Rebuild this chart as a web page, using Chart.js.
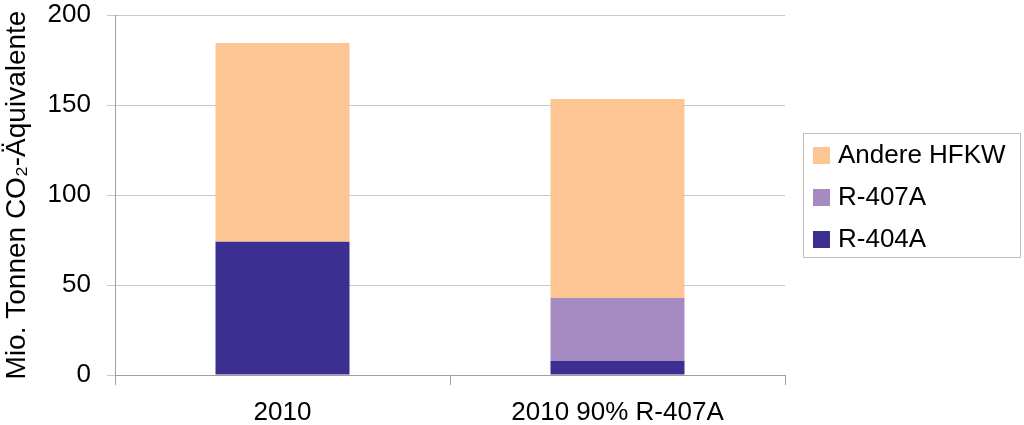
<!DOCTYPE html>
<html>
<head>
<meta charset="utf-8">
<script src="https://cdn.jsdelivr.net/npm/chart.js@4/dist/chart.umd.min.js"></script>
<style>
html,body{margin:0;padding:0;background:#fff;}
#wrap{width:1024px;height:425px;position:relative;}
</style>
</head>
<body>
<div id="wrap"><canvas id="c" width="1024" height="425"></canvas></div>
<script>
const categories = ['2010', '2010 90% R-407A'];
const r404a = [74, 7.8];
const r407a = [0, 35];
const andere = [110.5, 110.5];
const yTicks = [0, 50, 100, 150, 200];
const yTitle = 'Mio. Tonnen CO\u2082-\u00C4quivalente';

const FONT = "'Liberation Sans', Arial, sans-serif";

const boxLegend = {
  id: 'boxLegend',
  afterDraw(chart) {
    const ctx = chart.ctx;
    const ca = chart.chartArea;
    const items = chart.data.datasets.slice().reverse();
    const left = ca.right + 18, width = 217, height = 124;
    const top = (ca.top + ca.bottom) / 2 - height / 2;
    ctx.save();
    ctx.strokeStyle = '#c0c0c0';
    ctx.lineWidth = 1;
    ctx.strokeRect(left + 0.5, top + 0.5, width, height);
    ctx.font = '26px ' + FONT;
    ctx.textBaseline = 'middle';
    ctx.fillStyle = '#000';
    items.forEach((ds, i) => {
      const cy = top + 22 + i * 42;
      ctx.fillStyle = ds.backgroundColor;
      ctx.fillRect(left + 10, cy - 8, 17, 17);
      ctx.fillStyle = '#000';
      ctx.fillText(ds.label, left + 35, cy + 1);
    });
    ctx.restore();
  }
};

new Chart(document.getElementById('c'), {
  type: 'bar',
  data: {
    labels: categories,
    datasets: [
      { label: 'R-404A', data: r404a, backgroundColor: '#3B3092' },
      { label: 'R-407A', data: r407a, backgroundColor: '#A68BC2' },
      { label: 'Andere HFKW', data: andere, backgroundColor: '#FCC593' }
    ]
  },
  options: {
    responsive: false,
    animation: false,
    devicePixelRatio: 1,
    layout: { padding: { left: 0, right: 239, top: 0, bottom: 0 } },
    datasets: { bar: { categoryPercentage: 1, barPercentage: 0.4 } },
    plugins: { legend: { display: false }, tooltip: { enabled: false } },
    scales: {
      x: {
        stacked: true,
        afterFit(s) { s.height = 50; },
        grid: { offset: true, drawOnChartArea: false, drawTicks: true, tickLength: 10, color: '#a0a0a0' },
        border: { display: true, color: '#a0a0a0' },
        ticks: { color: '#000', font: { size: 26, family: FONT }, padding: 12, maxRotation: 0 }
      },
      y: {
        stacked: true,
        min: 0, max: 200,
        afterBuildTicks(s) { s.ticks = yTicks.map(v => ({ value: v })); },
        afterFit(s) { s.width = 115; s.paddingTop = 15; s.paddingBottom = 0; },
        grid: { color: '#c8c8c8', tickLength: 8, drawTicks: true },
        border: { display: true, color: '#a0a0a0' },
        ticks: { color: '#000', font: { size: 26, family: FONT }, padding: 16 },
        title: { display: true, text: yTitle, color: '#000', font: { size: 28, family: FONT }, padding: { top: 0, bottom: 0 } }
      }
    }
  },
  plugins: [boxLegend]
});
</script>
</body>
</html>
